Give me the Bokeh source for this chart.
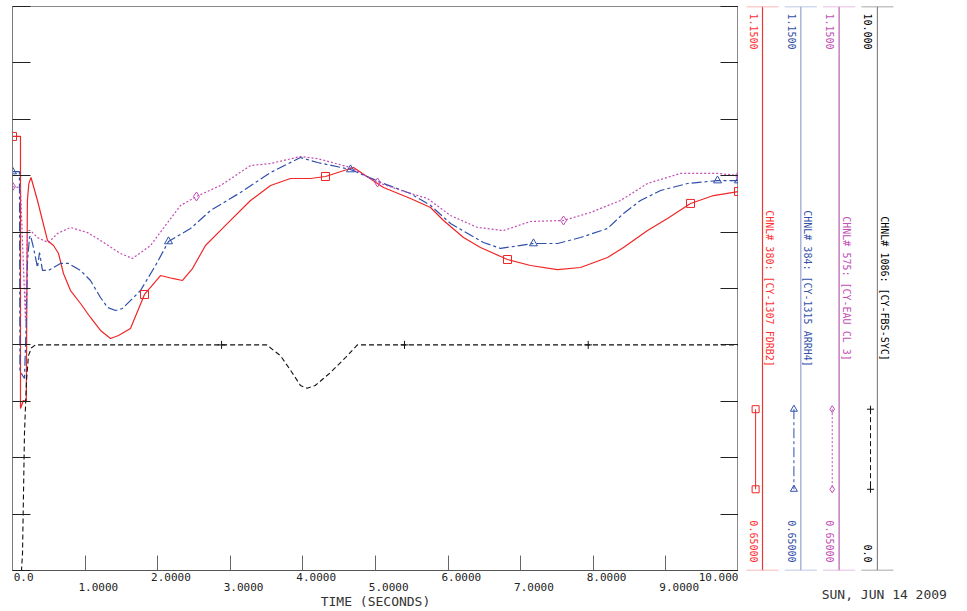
import math
from bokeh.plotting import figure
from bokeh.models import Range1d, LinearAxis, FixedTicker
from bokeh.layouts import row
from bokeh.embed import file_html
from bokeh.resources import INLINE
from bokeh.core.properties import value

FONT = "DejaVu Sans Mono"
NB = "\u00a0"

# ---------------- data ----------------
red_t = [0.0, 0.11, 0.11, 0.15, 0.19, 0.205, 0.225, 0.255, 0.344, 0.413, 0.482, 0.565, 0.634, 0.702,
         0.799, 0.937, 1.074, 1.212, 1.35, 1.46, 1.625, 1.818, 2.039, 2.204, 2.342, 2.479, 2.658,
         2.934, 3.278, 3.554, 3.829, 4.105, 4.311, 4.697, 5.11, 5.482, 5.758, 5.937, 6.212, 6.446,
         6.818, 7.135, 7.507, 7.824, 8.196, 8.416, 8.747, 9.022, 9.339, 9.656, 10.0]
red_v = [1.0348, 1.0348, 0.7936, 0.8007, 0.80, 0.978, 0.993, 0.9984, 0.978, 0.9603, 0.9426, 0.9381,
         0.931, 0.9133, 0.8982, 0.8867, 0.8743, 0.8628, 0.8557, 0.8583, 0.8645, 0.8947, 0.9115,
         0.9089, 0.9071, 0.9177, 0.9381, 0.9559, 0.978, 0.9913, 0.9975, 0.9975, 0.9993, 1.0073,
         0.9895, 0.9798, 0.9718, 0.9603, 0.9452, 0.9363, 0.9257, 0.9204, 0.9168, 0.9186, 0.9275,
         0.9363, 0.9514, 0.9621, 0.9754, 0.9824, 0.986]

blue_t = [0.0, 0.096, 0.103, 0.138, 0.165, 0.186, 0.207, 0.234, 0.248, 0.289, 0.344, 0.372, 0.413,
          0.496, 0.661, 0.771, 0.937, 1.074, 1.212, 1.309, 1.419, 1.515, 1.763, 1.97, 2.149, 2.452,
          2.727, 3.14, 3.554, 3.967, 4.201, 4.656, 5.11, 5.482, 5.758, 6.033, 6.488, 6.722, 7.176,
          7.507, 7.824, 8.196, 8.416, 8.65, 8.926, 9.298, 9.711, 10.0]
blue_v = [1.0037, 1.0037, 0.8273, 0.8229, 0.8202, 0.8628, 0.9248, 0.9452, 0.947, 0.9363, 0.9186,
          0.9319, 0.916, 0.916, 0.9222, 0.9222, 0.916, 0.9071, 0.892, 0.8832, 0.8805, 0.8823,
          0.8982, 0.9204, 0.9417, 0.9532, 0.9691, 0.9851, 1.0028, 1.0161, 1.0117, 1.0055, 0.9931,
          0.9842, 0.9736, 0.9576, 0.9408, 0.9355, 0.9399, 0.9399, 0.9452, 0.9532, 0.9665, 0.978,
          0.9869, 0.9931, 0.9957, 0.9957]

mag_t = [0.0, 0.11, 0.179, 0.207, 0.248, 0.344, 0.427, 0.496, 0.62, 0.799, 1.033, 1.212, 1.488,
         1.653, 1.901, 2.107, 2.314, 2.534, 2.865, 3.278, 3.554, 3.967, 4.201, 4.656, 5.028, 5.441,
         5.716, 6.033, 6.405, 6.763, 7.135, 7.59, 7.961, 8.375, 8.747, 9.201, 9.711, 10.0]
mag_v = [0.9904, 0.9895, 0.8716, 0.9514, 0.9514, 0.9452, 0.9426, 0.9408, 0.9488, 0.9541, 0.9496,
         0.9426, 0.931, 0.9266, 0.9381, 0.9559, 0.9736, 0.9816, 0.9913, 1.009, 1.0108, 1.017,
         1.0152, 1.0073, 0.994, 0.9851, 0.9798, 0.9647, 0.9541, 0.9514, 0.9594, 0.9603, 0.9674,
         0.978, 0.9931, 1.002, 1.002, 1.0002]

blk_t = [0.0, 0.124, 0.138, 0.165, 0.193, 0.22, 0.262, 0.317, 3.5, 3.69, 3.83, 3.967, 4.06, 4.17,
         4.38, 4.59, 4.75, 10.0]
blk_v = [0.0, 0.0, 0.30, 2.43, 3.37, 3.81, 3.95, 4.0, 4.0, 3.81, 3.55, 3.28, 3.23, 3.28, 3.51,
         3.78, 4.0, 4.0]

red_mk_t = [0.0, 1.818, 4.311, 6.818, 9.339, 10.0]
red_mk_v = [1.0348, 0.8947, 0.9993, 0.9257, 0.9754, 0.986]
blue_mk_t = [0.0, 2.149, 4.656, 7.176, 9.711, 10.0]
blue_mk_v = [1.0037, 0.9417, 1.0055, 0.9399, 0.9957, 0.9957]
mag_mk_t = [0.0, 2.534, 5.028, 7.59, 10.0]
mag_mk_v = [0.9904, 0.9816, 0.994, 0.9603, 1.0002]
blk_mk_t = [2.88, 5.40, 7.93]
blk_mk_v = [4.0, 4.0, 4.0]

x_even_ticks = [0, 2, 4, 6, 8, 10]
x_even_labels = ["0.0", "2.0000", "4.0000", "6.0000", "8.0000", "10.000"]
x_odd_ticks = [1, 3, 5, 7, 9]
x_odd_labels = ["1.0000", "3.0000", "5.0000", "7.0000", "9.0000"]
y_ticks = [0.65, 0.70, 0.75, 0.80, 0.85, 0.90, 0.95, 1.00, 1.05, 1.10, 1.15]

ch_names = ["CHNL# 380: [CY-1307 FDRB2]", "CHNL# 384: [CY-1315 ARRH4]",
            "CHNL# 575: [CY-EAU CL 3]", "CHNL# 1086: [CY-FBS-SYC]"]
ch_max = ["1.1500", "1.1500", "1.1500", "10.000"]
ch_min = ["0.65000", "0.65000", "0.65000", "0.0"]
x_title = "TIME (SECONDS)"
date_text = "SUN, JUN 14 2009"

# ---------------- styles ----------------
C_RED, C_BLUE, C_MAG, C_BLK = "#f02525", "#2f4fab", "#c04cb4", "#111111"
ch_text_colors = ["#ff3030", "#3552a8", "#c250b5", "#000000"]
ch_line_colors = ["#e83838", "#93a3d4", "#b45fae", "#858585"]
ch_cap_colors = ["#f7a2a2", "#a9b7df", "#dfaadc", "#8c8c8c"]
ch_dash = ["solid", "10 3 3 3", "2 2", "5 3"]
ch_marker = ["square", "triangle", "diamond", "cross"]
ch_color = [C_RED, C_BLUE, C_MAG, C_BLK]

# ---------------- main plot ----------------
p = figure(width=738, height=611, x_range=Range1d(0, 10), y_range=Range1d(0.65, 1.15),
           x_axis_type=None, y_axis_type=None, output_backend="svg", toolbar_location=None,
           min_border_left=12, min_border_right=0, min_border_top=6, min_border_bottom=41)
p.outline_line_color = "#8a8a8a"
p.background_fill_color = "white"
p.extra_y_ranges = {"ch1086": Range1d(0, 10)}

for side, col in (("left", "#7a7a7a"), ("right", "#222222")):
    ax = LinearAxis(ticker=FixedTicker(ticks=y_ticks), major_tick_in=18, major_tick_out=0,
                    minor_tick_line_color=None, major_label_text_font_size="0px",
                    major_label_standoff=0, axis_line_color=col,
                    major_tick_line_color="#222222")
    ax.major_label_overrides = {t: "" for t in y_ticks}
    p.add_layout(ax, side)

ov_a = {}
for t, s in zip(x_even_ticks, x_even_labels):
    if t == 0:
        ov_a[float(t)] = NB * 2 + s
    elif t == 10:
        ov_a[float(t)] = s
    else:
        ov_a[float(t)] = NB * 4 + s
for t in x_odd_ticks:
    ov_a[float(t)] = ""
xa = LinearAxis(ticker=FixedTicker(ticks=sorted(x_even_ticks + x_odd_ticks)), bounds=(0, 10),
                major_tick_in=15, major_tick_out=0, minor_tick_line_color=None,
                major_label_overrides=ov_a, major_label_standoff=0,
                major_label_text_font=FONT, major_label_text_font_size="11px",
                major_label_text_color="#222222",
                axis_line_color="#555555", major_tick_line_color="#666666")
p.add_layout(xa, "below")

ov_b = {float(t): NB * 4 + s for t, s in zip(x_odd_ticks, x_odd_labels)}
xb = LinearAxis(ticker=FixedTicker(ticks=x_odd_ticks), bounds=(0, 10),
                major_tick_in=0, major_tick_out=0, minor_tick_line_color=None,
                major_label_overrides=ov_b, major_label_standoff=-6,
                major_label_text_font=FONT, major_label_text_font_size="11px",
                major_label_text_color="#222222",
                axis_line_color=None, major_tick_line_color=None,
                axis_label=x_title, axis_label_standoff=-3,
                axis_label_text_font=FONT, axis_label_text_font_size="13px",
                axis_label_text_font_style="normal", axis_label_text_color="#333333")
p.add_layout(xb, "below")

p.line(red_t, red_v, line_color=C_RED, line_width=1.2)
p.line(blue_t, blue_v, line_color=C_BLUE, line_width=1.2, line_dash="10 3 3 3")
p.line(mag_t, mag_v, line_color=C_MAG, line_width=1.2, line_dash="2 2")
p.line(blk_t, blk_v, line_color=C_BLK, line_width=1.1, line_dash="5 3", y_range_name="ch1086")

p.scatter(red_mk_t, red_mk_v, marker="square", size=8, fill_color=None, line_color=C_RED)
p.scatter(blue_mk_t, blue_mk_v, marker="triangle", size=8, fill_color=None, line_color=C_BLUE)
p.scatter(mag_mk_t, mag_mk_v, marker="diamond", size=9, fill_color=None, line_color=C_MAG)
p.scatter(blk_mk_t, blk_mk_v, marker="cross", size=8, line_color=C_BLK, y_range_name="ch1086")

# ---------------- channel panel ----------------
q = figure(width=229, height=611, x_range=Range1d(-0.627, 5.352), y_range=Range1d(0.65, 1.15),
           x_axis_type=None, y_axis_type=None, output_backend="svg", toolbar_location=None,
           min_border_left=0, min_border_right=0, min_border_top=6, min_border_bottom=41)
q.outline_line_color = None

ch_x = [0, 1, 2, 3]
q.segment(x0=ch_x, y0=[0.65] * 4, x1=ch_x, y1=[1.15] * 4, line_color=ch_line_colors, line_width=1.2)
q.segment(x0=[x - 0.42 for x in ch_x], y0=[1.15] * 4, x1=[x + 0.42 for x in ch_x], y1=[1.15] * 4,
          line_color=ch_cap_colors, line_width=1.5)
q.segment(x0=[x - 0.42 for x in ch_x], y0=[0.65] * 4, x1=[x + 0.42 for x in ch_x], y1=[0.65] * 4,
          line_color=ch_cap_colors, line_width=1.5)

q.text(x=ch_x, y=[1.15] * 4, text=ch_max, angle=-math.pi / 2, text_align="left",
       text_baseline="middle", x_offset=-9, y_offset=7, text_color=ch_text_colors,
       text_font=value(FONT), text_font_size="10px")
q.text(x=ch_x, y=[0.65] * 4, text=ch_min, angle=-math.pi / 2, text_align="right",
       text_baseline="middle", x_offset=-9, y_offset=-8, text_color=ch_text_colors,
       text_font=value(FONT), text_font_size="10px")
q.text(x=ch_x, y=[0.9] * 4, text=ch_names, angle=-math.pi / 2, text_align="center",
       text_baseline="middle", x_offset=7, text_color=ch_text_colors,
       text_font=value(FONT), text_font_size="10px")

leg_y = [0.793, 0.722]
for k in range(4):
    xs = [ch_x[k] - 0.18, ch_x[k] - 0.18]
    q.line(xs, leg_y, line_color=ch_color[k], line_width=1, line_dash=ch_dash[k])
    if ch_marker[k] == "cross":
        q.scatter(xs, leg_y, marker="cross", size=7, line_color=ch_color[k])
    else:
        q.scatter(xs, leg_y, marker=ch_marker[k], size=7, fill_color=None, line_color=ch_color[k])

# date stamp carried by an otherwise empty bottom axis of the channel panel
qd = LinearAxis(ticker=FixedTicker(ticks=[]), axis_line_color=None, major_tick_line_color=None,
                minor_tick_line_color=None, major_tick_in=0, major_tick_out=0,
                major_label_text_font_size="0px", major_label_standoff=0,
                axis_label=NB * 8 + date_text, axis_label_standoff=16,
                axis_label_text_font=FONT, axis_label_text_font_size="13px",
                axis_label_text_font_style="normal", axis_label_text_color="#333333")
q.add_layout(qd, "below")

layout = row(p, q)
open("out.html", "w").write(file_html(layout, INLINE))
